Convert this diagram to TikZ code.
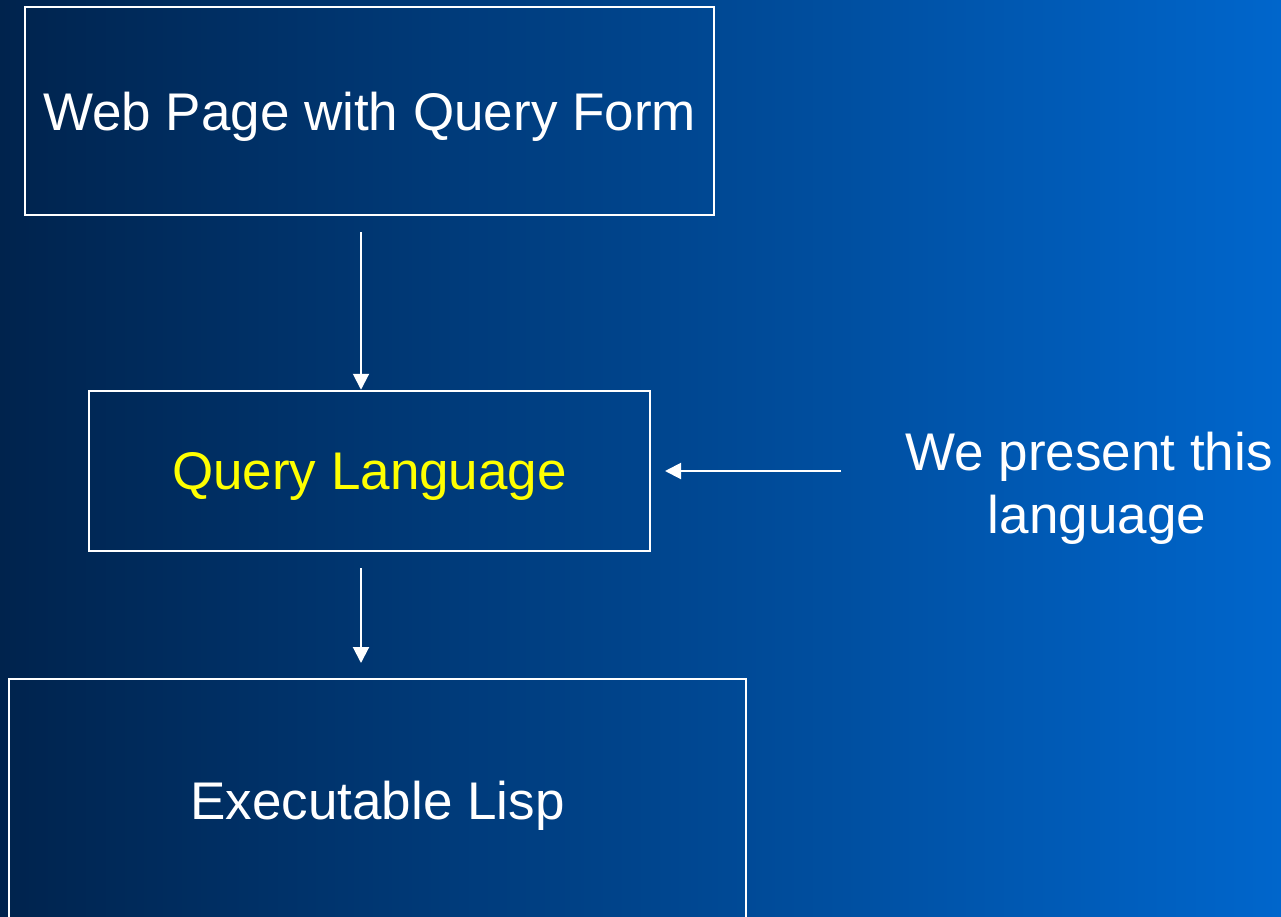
\documentclass[tikz,border=0pt]{standalone}
\usepackage{fontspec}
\setmainfont{Liberation Sans}
\usetikzlibrary{arrows.meta}
\definecolor{bgleft}{RGB}{0,35,77}
\definecolor{bgmid}{RGB}{0,76,158}
\definecolor{bgright}{RGB}{0,102,204}
\definecolor{qyellow}{RGB}{255,255,0}
\begin{document}
\begin{tikzpicture}[x=1pt,y=-1pt,
  box/.style={draw=white,line width=2.5pt,inner sep=0pt,text depth=0pt,
    font=\fontsize{53}{63}\selectfont,text=white},
  conn/.style={draw=white,line width=2pt,-{Triangle[length=16pt,width=16pt]}},
  note/.style={font=\fontsize{53}{63}\selectfont,text=white,align=center}]
\useasboundingbox (0,0) rectangle (1281,916);
\clip (0,0) rectangle (1281,916);
\shade[left color=bgleft,middle color=bgmid,right color=bgright] (0,0) rectangle (1281,916);
\node[box,minimum width=689pt,minimum height=208pt] (web) at (369.5,111) {Web Page with Query Form};
\node[box,minimum width=561pt,minimum height=160pt,text=qyellow] (ql) at (369.5,471) {Query Language};
\node[box,minimum width=737pt,minimum height=242pt] (lisp) at (377.5,800) {Executable Lisp};
\node[note] (pres) at (1089,488) {We present this\\\hspace*{16pt}language};
\coordinate (a1s) at (361,232);
\coordinate (a2s) at (361,568);
\coordinate (a2e) at (361,663);
\coordinate (a3s) at (841,471);
\coordinate (a3e) at (665,471);
\draw[conn] (a1s) -- (a1s |- ql.north);
\draw[conn] (a2s) -- (a2e);
\draw[conn] (a3s) -- (a3e);
\end{tikzpicture}
\end{document}
